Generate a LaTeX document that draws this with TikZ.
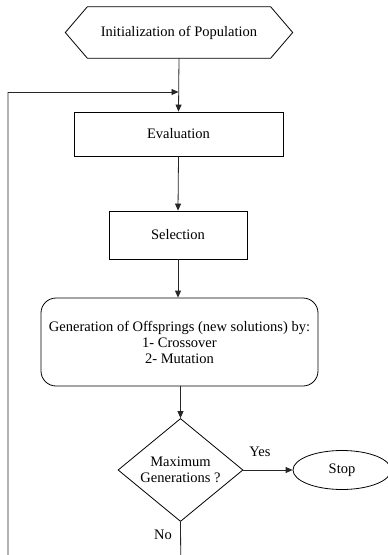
\documentclass[tikz,border=0pt]{standalone}
\usepackage{fontspec}
\setmainfont{Liberation Serif}
\usetikzlibrary{positioning,calc}
\usetikzlibrary{shapes.geometric,arrows.meta}

\tikzset{
    flowline/.style={draw=black!85,line width=0.8pt},
    flowarrow/.style={flowline,-{Triangle[length=7pt,width=6pt]}},
    procbox/.style={draw,line width=0.8pt,minimum height=44pt},
}

\begin{document}
\begin{tikzpicture}[x=1pt,y=-1pt,font=\fontsize{14.5pt}{16pt}\selectfont]
    \clip (0,0) rectangle (388,555);
    \fill[white] (0,0) rectangle (388,555);

    % start block
    \node[minimum width=183,minimum height=51,inner sep=0] (init) at (179,32.5)
        {Initialization of Population};
    \draw[line width=0.8pt] ([xshift=-22]init.west) -- (init.north west)
        -- (init.north east) -- ([xshift=22]init.east)
        -- (init.south east) -- (init.south west) -- cycle;

    % main steps
    \node[procbox,minimum width=209] (eval) at (178.5,134) {Evaluation};
    \node[procbox,minimum width=138,minimum height=48] (sel) at (178,235) {Selection};
    \node[draw,line width=0.8pt,rounded corners=15pt,minimum width=277,
        minimum height=88,align=center] (gen) at (179.5,342)
        {Generation of Offsprings (new solutions) by:\\1- Crossover\\2- Mutation};

    % decision
    \node[draw,line width=0.8pt,diamond,minimum width=125,minimum height=103,
        aspect=1.21,inner sep=0,align=center] (dec) at (180.5,470)
        {Maximum\\Generations ?};
    \node[draw,line width=0.8pt,ellipse,minimum width=98,minimum height=39] (stop)
        at (342,470) {Stop};
    \node (yes) at (260,452) {Yes};
    \node (no) at (163,535) {No};

    % connectors
    \coordinate (fb) at (178.5,92);
    \coordinate (loopR) at (181,600);
    \coordinate (loopL) at (8,600);
    \coordinate (loopT) at (8,92);
    \draw[flowarrow] (init.south) -- (eval.north);
    \draw[flowarrow] (eval.south) -- (sel.north);
    \draw[flowarrow] (sel.south) -- (sel.south |- gen.north);
    \draw[flowarrow] (gen.south -| dec.north) -- (dec.north);
    \draw[flowarrow] (dec.east) -- (stop.west);
    \draw[flowline] (dec.south) -- (loopR) -- (loopL) -- (loopT);
    \draw[flowarrow] (loopT) -- (fb);
\end{tikzpicture}
\end{document}
